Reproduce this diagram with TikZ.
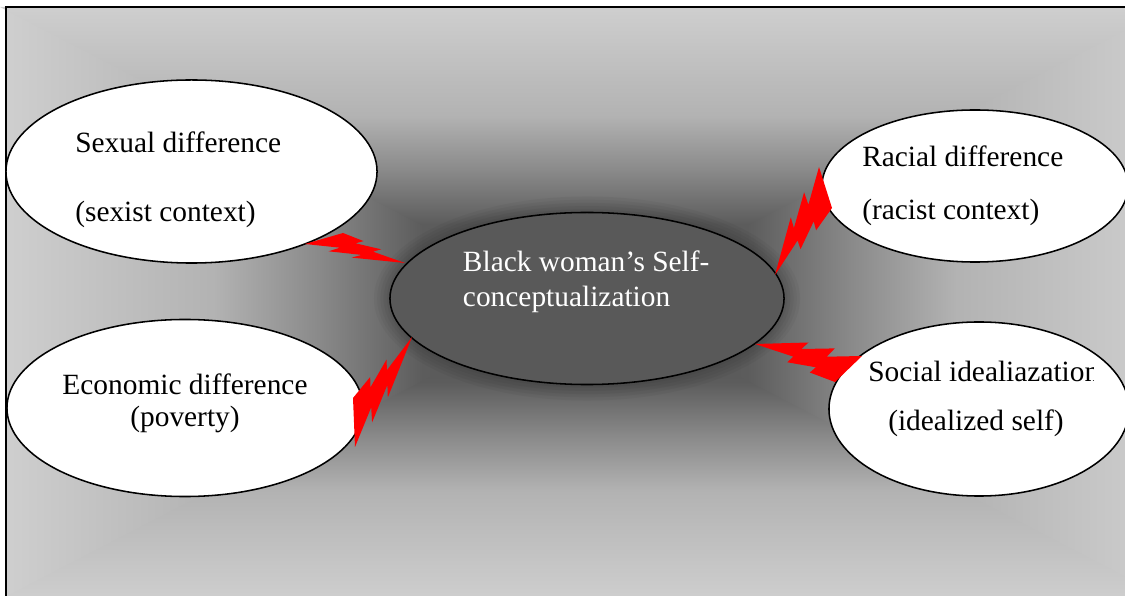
\documentclass[tikz,border=0pt]{standalone}
\usepackage{fontspec}
\setmainfont{Liberation Serif}
\usetikzlibrary{shapes.geometric}

\definecolor{bgdark}{gray}{0.33}
\definecolor{bgdeep}{gray}{0.36}
\definecolor{bgmid}{gray}{0.54}
\definecolor{bgsoft}{gray}{0.70}
\definecolor{bglight}{gray}{0.81}
\definecolor{selffill}{gray}{0.35}

\pgfdeclareverticalshading{bgfade}{100bp}{color(0bp)=(bgdark); color(25bp)=(bgdark); color(39bp)=(bgdeep); color(48bp)=(bgmid); color(57bp)=(bgsoft); color(75bp)=(bglight); color(100bp)=(bglight)}

\tikzset{
  idea/.style={ellipse, draw, line width=1.1pt, fill=white, inner sep=0pt},
  labeltext/.style={anchor=base west, inner sep=0pt, font=\fontsize{20.9}{24}\selectfont},
  labelmid/.style={labeltext, anchor=base},
  bolt/.style={fill=red},
}

\begin{document}
\begin{tikzpicture}[x=0.025cm, y=-0.025cm]
\useasboundingbox (0,0) rectangle (1125,596);
\begin{scope}
\clip (0,0) rectangle (1125,596);

\coordinate (mid) at (585,303);
\fill [bgmid] (6,7) rectangle (1164,600);
\shade [shading=bgfade, shading angle=90] (6,7) -- (6,600) -- (mid) -- cycle;
\shade [shading=bgfade, shading angle=270] (1164,7) -- (1164,600) -- (mid) -- cycle;
\shade [shading=bgfade] (0,7) -- (1170,7) -- (585,309) -- cycle;
\shade [shading=bgfade, shading angle=180] (0,600) -- (1170,600) -- (585,297) -- cycle;
\draw [line width=1.4pt] (6,7) rectangle (1164,600);

\foreach \g in {0.4,0.32,0.24,0.16,0.08}
  \fill [black, opacity=0.035] (587,298.5) ellipse [x radius=4.925cm+\g cm, y radius=2.15cm+\g cm];

\node [idea, minimum width=9.275cm, minimum height=4.575cm] (sexual) at (191.5,171.5) {};
\node [idea, minimum width=8.9cm, minimum height=4.425cm] (economic) at (185,408) {};
\node [idea, minimum width=7.65cm, minimum height=3.8cm] (racial) at (975,186) {};
\node [idea, minimum width=7.5cm, minimum height=4.35cm] (social) at (979,409) {};
\node [idea, fill=selffill, minimum width=9.85cm, minimum height=4.3cm] (self) at (587,298.5) {};

\node [labeltext] (sexualA) at (75,153) {Sexual difference};
\node [labeltext] (sexualB) at (75,222) {(sexist context)};
\node [labelmid] (economicA) at (185,395) {Economic difference};
\node [labelmid] (economicB) at (185,427) {(poverty)};
\node [labeltext] (racialA) at (862,167) {Racial difference};
\node [labeltext] (racialB) at (862,220) {(racist context)};
\node [labeltext, text=white] (selfA) at (462.7,271.7) {Black woman’s Self-};
\node [labeltext, text=white] (selfB) at (462.7,306.7) {conceptualization};
\begin{scope}
\clip (820,340) rectangle (1093,400);
\node [labeltext] (socialA) at (868,381.7) {Social idealiazation};
\end{scope}
\node [labeltext] (socialB) at (888,430.7) {(idealized self)};

\fill [bolt] (343.0,233.0) -- (363.6,241.1) -- (355.5,243.3) -- (381.1,249.3) -- (373.0,251.7) -- (405.0,263.0)
  -- (351.7,257.6) -- (361.6,254.9) -- (328.5,251.3) -- (340.0,247.7) -- (305.0,244.0) -- cycle;
\fill [bolt] (353.0,398.0) -- (370.2,377.0) -- (370.4,387.4) -- (386.5,359.6) -- (387.0,370.1) -- (412.0,337.0)
  -- (387.8,397.6) -- (387.4,384.8) -- (372.1,422.4) -- (371.2,407.3) -- (355.0,447.0) -- cycle;
\fill [bolt] (832.0,208.0) -- (816.1,230.3) -- (813.7,221.4) -- (800.5,249.2) -- (797.6,240.4) -- (775.0,275.0)
  -- (790.8,217.3) -- (793.9,228.1) -- (804.1,192.3) -- (808.4,204.7) -- (819.0,167.0) -- cycle;
\fill [bolt] (835.0,382.0) -- (809.8,372.5) -- (815.8,367.3) -- (787.4,362.3) -- (793.2,356.6) -- (755.0,344.0)
  -- (808.5,342.5) -- (801.4,349.0) -- (834.8,348.4) -- (826.8,356.7) -- (862.0,356.0) -- cycle;

\end{scope}
\end{tikzpicture}
\end{document}
